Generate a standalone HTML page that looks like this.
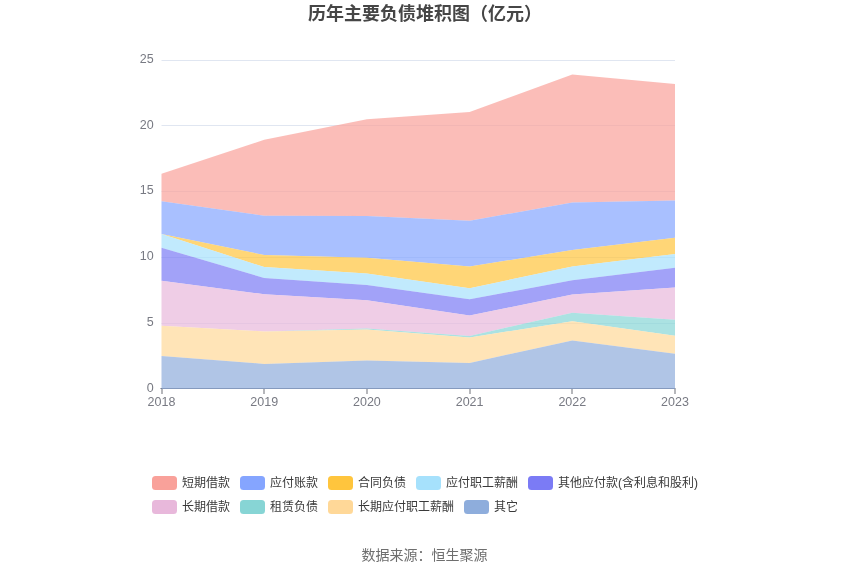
<!DOCTYPE html>
<html><head><meta charset="utf-8"><title>chart</title>
<style>
html,body{margin:0;padding:0;background:#fff;}
body{width:850px;height:575px;overflow:hidden;position:relative;font-family:"Liberation Sans","Noto Sans CJK SC",sans-serif;}
svg{position:absolute;left:0;top:0;}
svg text{font-family:"Liberation Sans","Noto Sans CJK SC",sans-serif;}
.title{font-size:18px;font-weight:bold;fill:#464646;}
.ax text{font-size:12.5px;fill:#787a83;}
.leg text{font-size:12px;fill:#3a3a3a;}
.src{font-size:14px;fill:#6e6e6e;}
</style></head><body>
<svg width="850" height="575" viewBox="0 0 850 575">
<text class="title" x="425" y="19.5" text-anchor="middle">历年主要负债堆积图（亿元）</text>
<g><rect x="161.5" y="60" width="513.5" height="1" fill="#E0E6F1"/><rect x="161.5" y="125" width="513.5" height="1" fill="#E0E6F1"/><rect x="161.5" y="191" width="513.5" height="1" fill="#E0E6F1"/><rect x="161.5" y="257" width="513.5" height="1" fill="#E0E6F1"/><rect x="161.5" y="323" width="513.5" height="1" fill="#E0E6F1"/></g>
<rect x="160.5" y="388" width="515" height="1" fill="#6E7079"/>
<g><polygon points="161.5,173.8 264.2,139.8 366.9,119.3 469.6,112 572.3,74.6 675,84 675,200.5 572.3,202.5 469.6,220.7 366.9,215.9 264.2,215.7 161.5,201.3" fill="#F9A19A" fill-opacity="0.7"/><polygon points="161.5,201.3 264.2,215.7 366.9,215.9 469.6,220.7 572.3,202.5 675,200.5 675,237.8 572.3,250 469.6,266.6 366.9,257.8 264.2,255 161.5,233.9" fill="#85A5FF" fill-opacity="0.7"/><polygon points="161.5,233.9 264.2,255 366.9,257.8 469.6,266.6 572.3,250 675,237.8 675,254.1 572.3,266.6 469.6,288.2 366.9,273.5 264.2,267.1 161.5,233.9" fill="#FFC53D" fill-opacity="0.7"/><polygon points="161.5,233.9 264.2,267.1 366.9,273.5 469.6,288.2 572.3,266.6 675,254.1 675,267.7 572.3,280.2 469.6,299.3 366.9,285.1 264.2,278 161.5,247.7" fill="#A6E1FC" fill-opacity="0.7"/><polygon points="161.5,247.7 264.2,278 366.9,285.1 469.6,299.3 572.3,280.2 675,267.7 675,287.4 572.3,294.5 469.6,315.5 366.9,300.2 264.2,294.2 161.5,280.8" fill="#7B7BF5" fill-opacity="0.7"/><polygon points="161.5,280.8 264.2,294.2 366.9,300.2 469.6,315.5 572.3,294.5 675,287.4 675,319.7 572.3,312.8 469.6,336 366.9,328.4 264.2,331.4 161.5,325.7" fill="#E8B8DB" fill-opacity="0.7"/><polygon points="161.5,325.7 264.2,331.4 366.9,328.4 469.6,336 572.3,312.8 675,319.7 675,335.7 572.3,321.3 469.6,337.4 366.9,329.5 264.2,331.4 161.5,325.7" fill="#87D5D5" fill-opacity="0.7"/><polygon points="161.5,325.7 264.2,331.4 366.9,329.5 469.6,337.4 572.3,321.3 675,335.7 675,353.7 572.3,340.5 469.6,362.9 366.9,360.4 264.2,363.9 161.5,356" fill="#FFD898" fill-opacity="0.7"/><polygon points="161.5,356 264.2,363.9 366.9,360.4 469.6,362.9 572.3,340.5 675,353.7 675,389 572.3,389 469.6,389 366.9,389 264.2,389 161.5,389" fill="#8EADDC" fill-opacity="0.7"/></g>
<g><rect x="161.5" y="389" width="1" height="5" fill="#6E7079"/><rect x="263.5" y="389" width="1" height="5" fill="#6E7079"/><rect x="366.5" y="389" width="1" height="5" fill="#6E7079"/><rect x="469.5" y="389" width="1" height="5" fill="#6E7079"/><rect x="571.5" y="389" width="1" height="5" fill="#6E7079"/><rect x="674.5" y="389" width="1" height="5" fill="#6E7079"/></g>
<g class="ax"><text x="153.7" y="63.0" text-anchor="end">25</text><text x="153.7" y="128.7" text-anchor="end">20</text><text x="153.7" y="194.4" text-anchor="end">15</text><text x="153.7" y="260.1" text-anchor="end">10</text><text x="153.7" y="325.8" text-anchor="end">5</text><text x="153.7" y="391.5" text-anchor="end">0</text><text x="161.5" y="406" text-anchor="middle">2018</text><text x="264.2" y="406" text-anchor="middle">2019</text><text x="366.9" y="406" text-anchor="middle">2020</text><text x="469.6" y="406" text-anchor="middle">2021</text><text x="572.3" y="406" text-anchor="middle">2022</text><text x="675" y="406" text-anchor="middle">2023</text></g>
<g class="leg"><rect x="152" y="476" width="25" height="14" rx="3.5" fill="#F9A19A"/><text x="182" y="487.3">短期借款</text><rect x="240" y="476" width="25" height="14" rx="3.5" fill="#85A5FF"/><text x="270" y="487.3">应付账款</text><rect x="328" y="476" width="25" height="14" rx="3.5" fill="#FFC53D"/><text x="358" y="487.3">合同负债</text><rect x="416" y="476" width="25" height="14" rx="3.5" fill="#A6E1FC"/><text x="446" y="487.3">应付职工薪酬</text><rect x="528" y="476" width="25" height="14" rx="3.5" fill="#7B7BF5"/><text x="558" y="487.3">其他应付款(含利息和股利)</text><rect x="152" y="500" width="25" height="14" rx="3.5" fill="#E8B8DB"/><text x="182" y="511.3">长期借款</text><rect x="240" y="500" width="25" height="14" rx="3.5" fill="#87D5D5"/><text x="270" y="511.3">租赁负债</text><rect x="328" y="500" width="25" height="14" rx="3.5" fill="#FFD898"/><text x="358" y="511.3">长期应付职工薪酬</text><rect x="464" y="500" width="25" height="14" rx="3.5" fill="#8EADDC"/><text x="494" y="511.3">其它</text></g>
<text class="src" x="424.5" y="560" text-anchor="middle">数据来源：恒生聚源</text>
</svg>
</body></html>
